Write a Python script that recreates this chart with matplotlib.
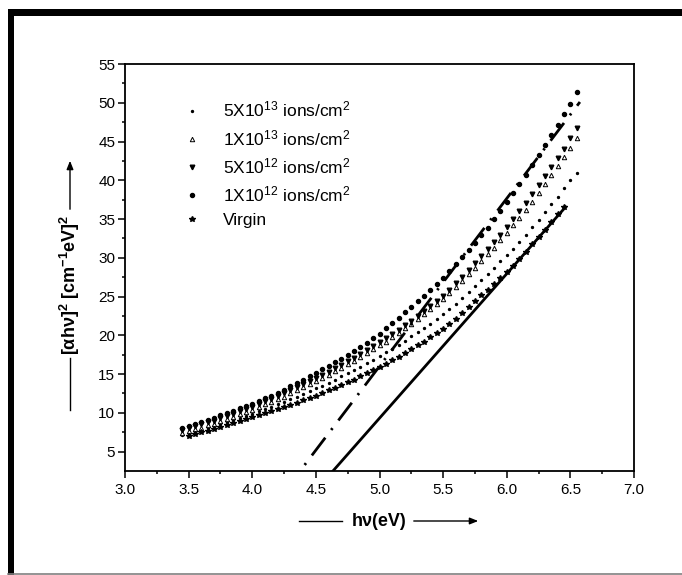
import matplotlib
matplotlib.use('Agg')
import matplotlib.pyplot as plt
from matplotlib.lines import Line2D
from matplotlib.patches import Rectangle

# photon energy (eV)
energy = [3.45, 3.50, 3.55, 3.60, 3.65, 3.70, 3.75, 3.80, 3.85, 3.90,
          3.95, 4.00, 4.05, 4.10, 4.15, 4.20, 4.25, 4.30, 4.35, 4.40,
          4.45, 4.50, 4.55, 4.60, 4.65, 4.70, 4.75, 4.80, 4.85, 4.90,
          4.95, 5.00, 5.05, 5.10, 5.15, 5.20, 5.25, 5.30, 5.35, 5.40,
          5.45, 5.50, 5.55, 5.60, 5.65, 5.70, 5.75, 5.80, 5.85, 5.90,
          5.95, 6.00, 6.05, 6.10, 6.15, 6.20, 6.25, 6.30, 6.35, 6.40,
          6.45, 6.50, 6.55]
virgin_energy = energy[1:61]

# [alpha h nu]^2 values
fluence_5e13 = [7.1, 7.3, 7.55, 7.8, 8.05, 8.3, 8.55, 8.8, 9.1, 9.35,
                9.6, 9.9, 10.2, 10.5, 10.8, 11.1, 11.4, 11.75, 12.1, 12.45,
                12.8, 13.15, 13.5, 13.9, 14.3, 14.7, 15.1, 15.5, 15.95, 16.4,
                16.85, 17.3, 17.8, 18.3, 18.8, 19.3, 19.85, 20.4, 20.95, 21.5,
                22.1, 22.7, 23.35, 24.0, 24.85, 25.6, 26.3, 27.1, 27.9, 28.75,
                29.55, 30.4, 31.2, 32.05, 33.0, 33.95, 34.85, 35.85, 36.9, 37.9,
                38.95, 40.0, 41.0]
fluence_1e13 = [7.4, 7.6, 7.9, 8.1, 8.4, 8.6, 8.9, 9.2, 9.5, 9.8,
                10.1, 10.4, 10.7, 11.1, 11.4, 11.8, 12.1, 12.5, 12.9, 13.3,
                13.7, 14.1, 14.5, 14.9, 15.4, 15.8, 16.3, 16.7, 17.2, 17.7,
                18.2, 18.7, 19.2, 19.8, 20.3, 20.9, 21.5, 22.1, 22.7, 23.4,
                24.0, 24.7, 25.45, 26.2, 27.0, 27.85, 28.7, 29.6, 30.45, 31.3,
                32.3, 33.25, 34.2, 35.15, 36.2, 37.25, 38.4, 39.5, 40.65, 41.8,
                43.0, 44.2, 45.4]
fluence_5e12 = [7.8, 8.0, 8.3, 8.5, 8.8, 9.0, 9.3, 9.6, 9.9, 10.2,
                10.5, 10.8, 11.1, 11.5, 11.8, 12.2, 12.5, 12.9, 13.3, 13.7,
                14.1, 14.5, 14.9, 15.3, 15.8, 16.2, 16.7, 17.1, 17.6, 18.1,
                18.6, 19.1, 19.6, 20.2, 20.7, 21.3, 21.9, 22.5, 23.1, 23.8,
                24.4, 25.1, 25.9, 26.7, 27.5, 28.4, 29.3, 30.2, 31.1, 32.0,
                33.0, 34.0, 35.0, 36.0, 37.1, 38.2, 39.4, 40.5, 41.7, 42.9,
                44.1, 45.4, 46.7]
fluence_1e12 = [8.1, 8.3, 8.6, 8.8, 9.1, 9.4, 9.7, 10.0, 10.3, 10.6,
                10.9, 11.2, 11.5, 11.9, 12.2, 12.6, 13.0, 13.4, 13.8, 14.3,
                14.7, 15.1, 15.6, 16.1, 16.6, 17.0, 17.5, 18.0, 18.5, 19.0,
                19.6, 20.2, 20.9, 21.6, 22.3, 23.0, 23.7, 24.4, 25.1, 25.8,
                26.6, 27.4, 28.3, 29.2, 30.1, 31.0, 31.9, 32.9, 33.9, 35.0,
                36.1, 37.2, 38.3, 39.5, 40.7, 42.0, 43.3, 44.5, 45.8, 47.1,
                48.5, 49.9, 51.4]
virgin = [7.0, 7.25, 7.5, 7.7, 7.95, 8.2, 8.45, 8.7, 8.95, 9.2,
          9.45, 9.7, 9.95, 10.2, 10.45, 10.75, 11.0, 11.3, 11.6, 11.9,
          12.2, 12.55, 12.9, 13.25, 13.6, 13.95, 14.3, 14.7, 15.1, 15.5,
          15.9, 16.35, 16.8, 17.25, 17.7, 18.2, 18.7, 19.2, 19.75, 20.3,
          20.85, 21.45, 22.1, 22.85, 23.6, 24.4, 25.2, 25.9, 26.6, 27.4,
          28.15, 29.0, 29.9, 30.8, 31.75, 32.7, 33.65, 34.6, 35.6, 36.5]

# linear extrapolation lines (band gap)
fit_virgin_x = [4.50, 6.47]
fit_virgin_y = [0.0, 36.7]
fit_1e12_x = [4.26, 6.575]
fit_1e12_y = [0.0, 50.1]

labels = ['5X10$^{13}$ ions/cm$^2$', '1X10$^{13}$ ions/cm$^2$',
          '5X10$^{12}$ ions/cm$^2$', '1X10$^{12}$ ions/cm$^2$', 'Virgin']


def main():
    plt.rcParams['font.family'] = ['Liberation Sans', 'DejaVu Sans']
    plt.rcParams['mathtext.fontset'] = 'custom'
    plt.rcParams['mathtext.rm'] = 'Liberation Sans'
    plt.rcParams['mathtext.bf'] = 'Liberation Sans:bold'
    plt.rcParams['mathtext.it'] = 'Liberation Sans:italic'

    W, H = 682, 575
    fig = plt.figure(figsize=(W / 100, H / 100), dpi=100)
    ax = fig.add_axes([125 / W, 104 / H, 509 / W, 407 / H])

    ax.plot(energy, fluence_5e13, ls='none', marker='o', ms=1.4, color='black', label=labels[0])
    ax.plot(energy, fluence_1e13, ls='none', marker='^', ms=3.2, mfc='white', mec='black', mew=0.7,
            label=labels[1])
    ax.plot(energy, fluence_5e12, ls='none', marker='v', ms=3.3, color='black', label=labels[2])
    ax.plot(energy, fluence_1e12, ls='none', marker='o', ms=2.9, color='black', label=labels[3])
    ax.plot(virgin_energy, virgin, ls='none', marker='*', ms=3.8, color='black', label=labels[4])

    ax.plot(fit_virgin_x, fit_virgin_y, color='black', lw=2.0, solid_capstyle='butt')
    ax.plot(fit_1e12_x, fit_1e12_y, color='black', lw=2.0, ls=(0, (8, 3.5, 0.8, 3.5)))

    ax.set_xlim(3.0, 7.0)
    ax.set_ylim(2.5, 55)
    ax.set_xticks([3.0, 3.5, 4.0, 4.5, 5.0, 5.5, 6.0, 6.5, 7.0])
    ax.set_xticks([3.25, 3.75, 4.25, 4.75, 5.25, 5.75, 6.25, 6.75], minor=True)
    ax.set_yticks([5, 10, 15, 20, 25, 30, 35, 40, 45, 50, 55])
    ax.set_yticks([7.5, 12.5, 17.5, 22.5, 27.5, 32.5, 37.5, 42.5, 47.5, 52.5], minor=True)
    ax.tick_params(which='major', direction='out', length=5, width=1.1, labelsize=11)
    ax.tick_params(which='minor', direction='out', length=2.5, width=1.1)
    ax.tick_params(axis='x', which='major', pad=4)
    ax.tick_params(axis='y', which='major', pad=2)
    for s in ax.spines.values():
        s.set_linewidth(1.3)

    ax.legend(loc='upper left', bbox_to_anchor=(0.114, 0.912), frameon=False,
              fontsize=12.5, numpoints=1, handlelength=1.0, handletextpad=1.3,
              labelspacing=0.48, borderpad=0, borderaxespad=0)

    # axis labels with arrows, placed in figure pixels
    def fx(px):
        return px / W

    def fy(py):
        return 1 - py / H

    fig.text(fx(70), fy(285), '[αhν]$^{\\mathbf{2}}$ [cm$^{\\mathbf{-1}}$eV]$^{\\mathbf{2}}$',
             rotation=90, ha='center', va='center', fontsize=13, fontweight='bold')
    fig.add_artist(Line2D([fx(70), fx(70)], [fy(358), fy(410)], color='black', lw=1))
    ax.annotate('', xy=(fx(70), fy(158)), xytext=(fx(70), fy(212)), xycoords='figure fraction',
                arrowprops=dict(arrowstyle='-|>,head_length=0.5,head_width=0.2', color='black', lw=1))

    fig.text(fx(379), fy(521), 'hν(eV)', ha='center', va='center', fontsize=13, fontweight='bold')
    fig.add_artist(Line2D([fx(299), fx(342)], [fy(521), fy(521)], color='black', lw=1))
    ax.annotate('', xy=(fx(481), fy(521)), xytext=(fx(411), fy(521)), xycoords='figure fraction',
                arrowprops=dict(arrowstyle='-|>,head_length=0.5,head_width=0.2', color='black', lw=1))

    # outer frame
    fig.add_artist(Rectangle((fx(8), 0), 6 / W, fy(9), transform=fig.transFigure, color='black', lw=0))
    fig.add_artist(Rectangle((fx(8), fy(16)), 1, 7 / H, transform=fig.transFigure, color='black', lw=0))
    fig.add_artist(Line2D([fx(8), 1], [fy(573.5), fy(573.5)], color='#808080', lw=1.2))

    plt.savefig('out.png', dpi=100)


if __name__ == "__main__":
    main()
